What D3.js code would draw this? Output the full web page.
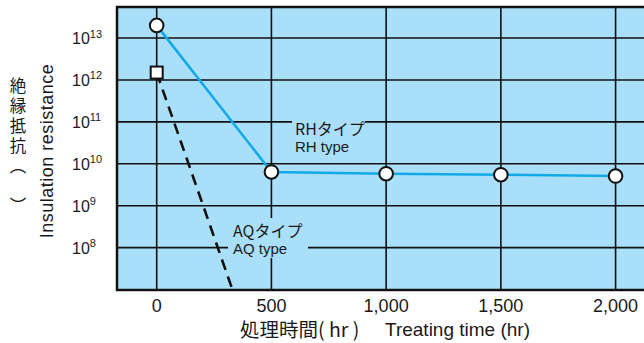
<!DOCTYPE html>
<html>
<head>
    <meta charset="utf-8">
    <title>Insulation resistance vs treating time</title>
    <script src="https://d3js.org/d3.v7.min.js"></script>
    <style>
        html, body {
            margin: 0;
            background: #fff;
        }
        text {
            font-family: "Liberation Sans", Arial, sans-serif;
            fill: #1a1a1a;
        }
        .jp {
            font-family: "Noto Sans CJK JP", sans-serif;
        }
    </style>
</head>
<body>
    <svg id="svg"></svg>
    <script>
        // data
        const rhHours = [0, 500, 1000, 1500, 2000];
        const rhValues = [2.0e13, 6.4e9, 5.8e9, 5.5e9, 5.1e9];
        const aqHours = [0, 330];
        const aqValues = [1.5e12, 1.0e7];
        const xTicks = [0, 500, 1000, 1500, 2000];
        const yExponents = [8, 9, 10, 11, 12, 13];

        const width = 644, height = 343;
        const margins = { top: 7, left: 117, right: -6, bottom: 53 };

        const svg = d3.select("#svg")
            .attr("width", width)
            .attr("height", height);

        const scaleX = d3.scaleLinear()
            .domain([-173, 2150])
            .range([margins.left, width - margins.right]);

        const scaleY = d3.scaleLog()
            .domain([Math.pow(10, 6.99), Math.pow(10, 13.74)])
            .range([height - margins.bottom, margins.top]);

        const plotW = width - margins.right - margins.left;
        const plotH = height - margins.bottom - margins.top;

        svg.append("defs").append("clipPath").attr("id", "clip")
            .append("rect")
            .attr("x", margins.left).attr("y", margins.top)
            .attr("width", plotW).attr("height", plotH);

        svg.append("rect")
            .attr("x", margins.left).attr("y", margins.top)
            .attr("width", plotW).attr("height", plotH)
            .attr("fill", "#aadff9");

        // grid
        const grid = svg.append("g").attr("stroke", "#111").attr("stroke-width", 1.6);
        grid.selectAll("line.h")
            .data(yExponents)
            .enter().append("line")
            .attr("x1", margins.left).attr("x2", width - margins.right)
            .attr("y1", d => scaleY(Math.pow(10, d)))
            .attr("y2", d => scaleY(Math.pow(10, d)));
        grid.selectAll("line.v")
            .data(xTicks)
            .enter().append("line")
            .attr("y1", margins.top).attr("y2", height - margins.bottom)
            .attr("x1", d => scaleX(d))
            .attr("x2", d => scaleX(d));

        // label backgrounds hiding the grid
        svg.append("rect")
            .attr("x", 292).attr("y", 115).attr("width", 73).attr("height", 42)
            .attr("fill", "#aadff9");
        svg.append("rect")
            .attr("x", 228).attr("y", 218).attr("width", 80).attr("height", 40)
            .attr("fill", "#aadff9");

        // frame
        svg.append("rect")
            .attr("x", margins.left).attr("y", margins.top)
            .attr("width", plotW).attr("height", plotH)
            .attr("fill", "none")
            .attr("stroke", "#111")
            .attr("stroke-width", 2.5);

        const line = d3.line()
            .x(d => scaleX(d[0]))
            .y(d => scaleY(d[1]));

        const rh = rhHours.map((h, i) => [h, rhValues[i]]);
        const aq = aqHours.map((h, i) => [h, aqValues[i]]);

        svg.append("path")
            .attr("clip-path", "url(#clip)")
            .attr("d", line(aq))
            .attr("fill", "none")
            .attr("stroke", "#111")
            .attr("stroke-width", 2.6)
            .attr("stroke-dasharray", "11,7");

        svg.append("path")
            .attr("d", line(rh))
            .attr("fill", "none")
            .attr("stroke", "#12aae6")
            .attr("stroke-width", 2.6);

        svg.selectAll("circle.rh")
            .data(rh)
            .enter().append("circle")
            .attr("cx", d => scaleX(d[0]))
            .attr("cy", d => scaleY(d[1]))
            .attr("r", 6.8)
            .attr("fill", "#fff")
            .attr("stroke", "#111")
            .attr("stroke-width", 2);

        svg.selectAll("rect.aq")
            .data(aq.slice(0, 1))
            .enter().append("rect")
            .attr("x", d => scaleX(d[0]) - 6)
            .attr("y", d => scaleY(d[1]) - 6)
            .attr("width", 12).attr("height", 12)
            .attr("fill", "#fff")
            .attr("stroke", "#111")
            .attr("stroke-width", 2);

        // y tick labels
        const yLabels = svg.selectAll("text.ytick")
            .data(yExponents)
            .enter().append("text")
            .attr("x", 72)
            .attr("y", d => scaleY(Math.pow(10, d)) + 6)
            .style("font-size", "16px");
        yLabels.append("tspan").text("10");
        yLabels.append("tspan")
            .attr("dy", -6.5)
            .style("font-size", "11px")
            .text(d => d);

        // x tick labels
        svg.selectAll("text.xtick")
            .data(xTicks)
            .enter().append("text")
            .attr("x", d => scaleX(d))
            .attr("y", 312)
            .attr("text-anchor", "middle")
            .style("font-size", "18px")
            .text(d => d3.format(",")(d));

        // axis titles
        svg.append("text")
            .attr("class", "jp")
            .attr("x", 240).attr("y", 337)
            .style("font-size", "19.5px")
            .text("処理時間( hr )");
        svg.append("text")
            .attr("x", 385).attr("y", 336)
            .style("font-size", "19px")
            .text("Treating time (hr)");

        svg.append("text")
            .attr("transform", "translate(53,151) rotate(-90)")
            .attr("text-anchor", "middle")
            .style("font-size", "18px")
            .style("letter-spacing", "0.5px")
            .text("Insulation resistance");

        // vertical Japanese title with its (empty) unit brackets
        svg.append("text")
            .attr("class", "jp")
            .attr("x", 18)
            .attr("y", 77)
            .style("writing-mode", "vertical-rl")
            .style("font-size", "16.5px")
            .style("letter-spacing", "3.5px")
            .text("絶縁抵抗（　）");

        // series annotations
        svg.append("text").attr("class", "jp")
            .attr("x", 295).attr("y", 135)
            .style("font-size", "16px")
            .text("RHタイプ");
        svg.append("text")
            .attr("x", 295).attr("y", 152)
            .style("font-size", "15px")
            .text("RH type");
        svg.append("text").attr("class", "jp")
            .attr("x", 233).attr("y", 237)
            .style("font-size", "16px")
            .text("AQタイプ");
        svg.append("text")
            .attr("x", 233).attr("y", 254)
            .style("font-size", "15px")
            .text("AQ type");
    </script>
</body>
</html>
